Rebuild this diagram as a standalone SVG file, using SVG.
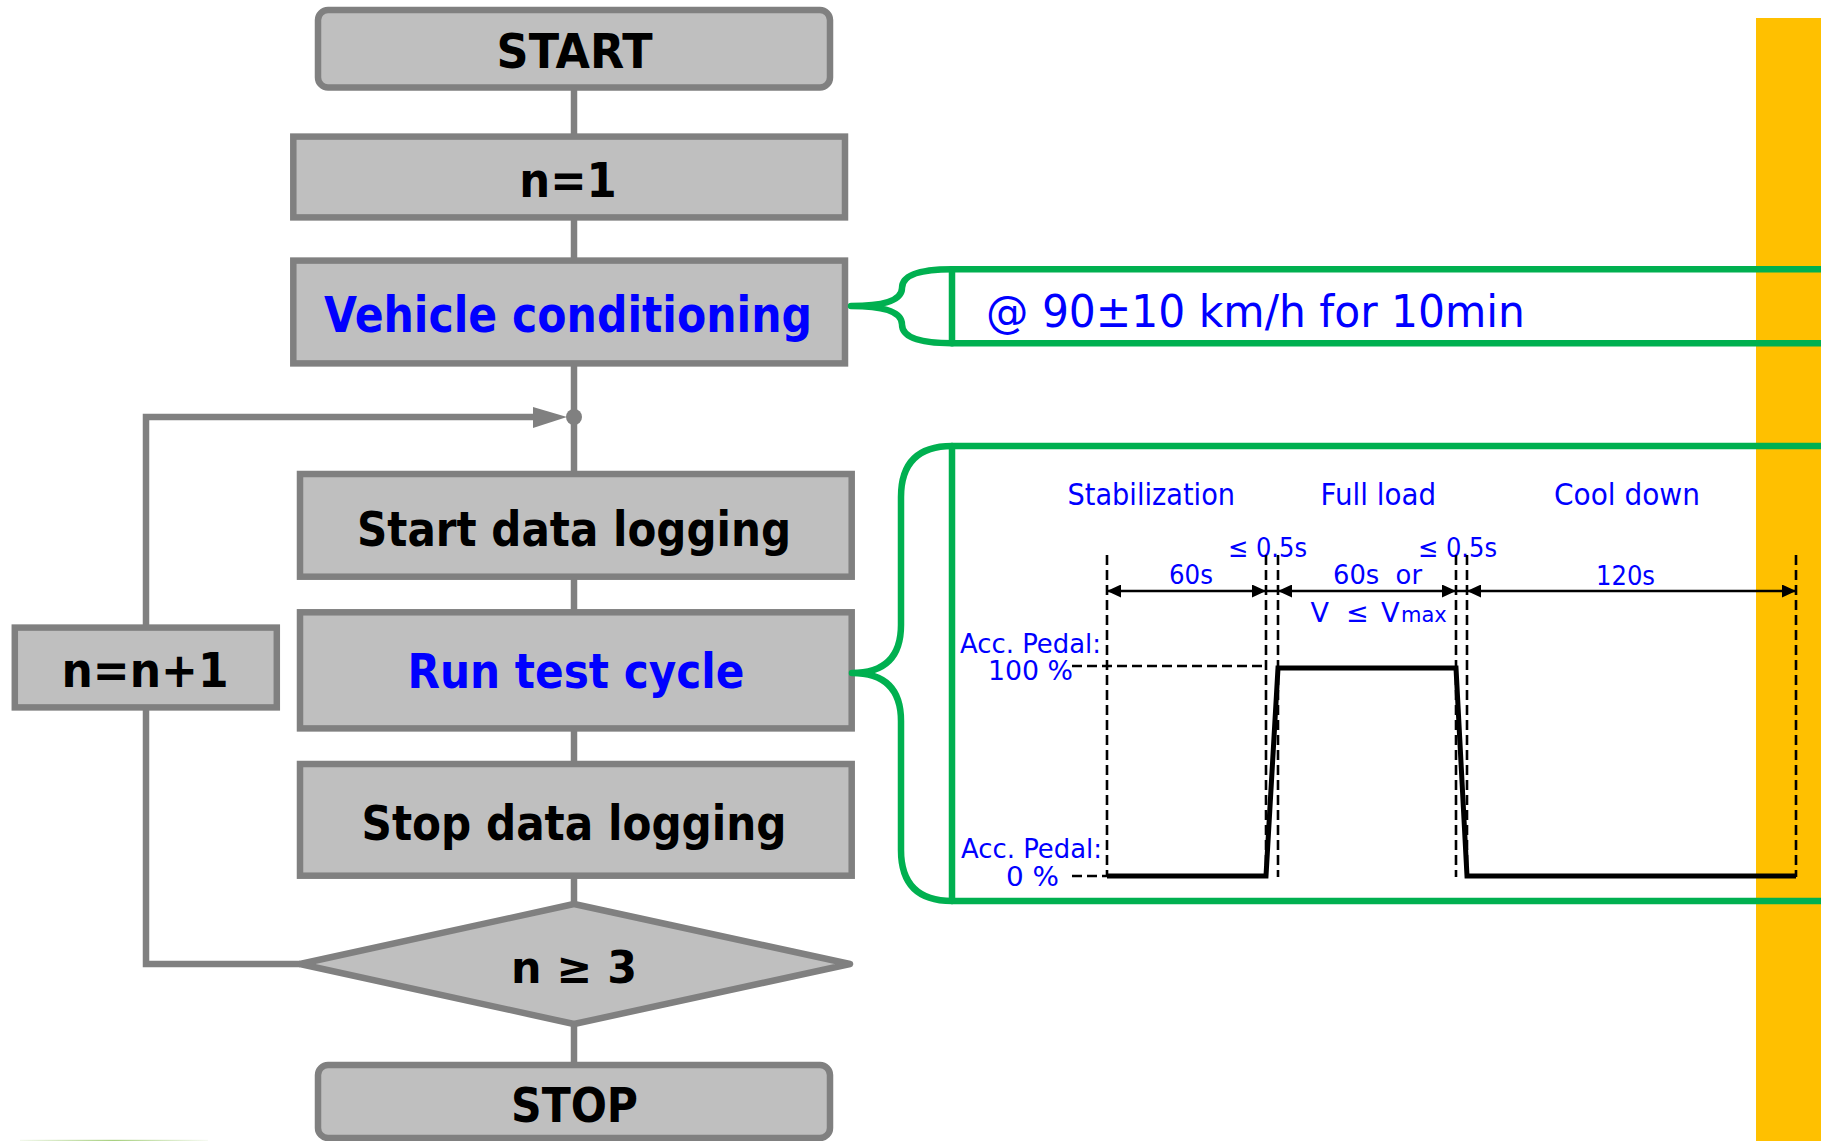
<svg xmlns="http://www.w3.org/2000/svg" width="1821" height="1141" viewBox="0 0 1821 1141">
  <style>
    .box { fill: #BFBFBF; stroke: #808080; stroke-width: 6.5; }
    .conn { fill: none; stroke: #808080; stroke-width: 6.5; }
    .lbl { font-family: "DejaVu Sans", Verdana, sans-serif; font-weight: bold; font-size: 48px; fill: #000000; text-anchor: middle; }
    .blue { fill: #0000FF; }
    .note { font-family: "DejaVu Sans", Verdana, sans-serif; font-size: 27px; fill: #0000FF; }
    .title { font-size: 30px; }
    .brace { fill: none; stroke: #00B050; stroke-width: 6.5; stroke-linecap: round; stroke-linejoin: round; }
    .dash { fill: none; stroke: #000000; stroke-width: 2.6; stroke-dasharray: 10 5; }
    .dim { fill: none; stroke: #000000; stroke-width: 2.5; }
    .trace { fill: none; stroke: #000000; stroke-width: 5; stroke-linejoin: miter; }
  </style>
  <defs>
    <marker id="tri" viewBox="0 0 14 13" refX="14" refY="6.5" markerWidth="14" markerHeight="13" markerUnits="userSpaceOnUse" orient="auto-start-reverse">
      <path d="M0,0 L14,6.5 L0,13 Z" fill="#000000"/>
    </marker>
    <linearGradient id="fade" x1="0" x2="1" y1="0" y2="0">
      <stop offset="0" stop-color="#F2F8EC"/>
      <stop offset="0.5" stop-color="#A8D080"/>
      <stop offset="1" stop-color="#F6FAF2"/>
    </linearGradient>
  </defs>

  <rect width="1821" height="1141" fill="#FFFFFF"/>

  <!-- side band -->
  <rect id="side-band" x="1756" y="18" width="65" height="1123" fill="#FFC000"/>
  <rect x="20" y="1139.8" width="188" height="1.2" fill="url(#fade)"/>

  <!-- connectors -->
  <g id="connectors">
    <line class="conn" x1="574" y1="87" x2="574" y2="137"/>
    <line class="conn" x1="574" y1="217" x2="574" y2="261"/>
    <line class="conn" x1="574" y1="363" x2="574" y2="474"/>
    <line class="conn" x1="574" y1="577" x2="574" y2="612"/>
    <line class="conn" x1="574" y1="728" x2="574" y2="764"/>
    <line class="conn" x1="574" y1="876" x2="574" y2="904"/>
    <line class="conn" x1="574" y1="1024" x2="574" y2="1065"/>
    <polyline class="conn" points="300,964 146,964 146,707"/>
    <polyline class="conn" points="146,627 146,417 535,417"/>
    <polygon points="533,407 567,417 533,428" fill="#808080"/>
    <circle cx="574" cy="417" r="8" fill="#808080"/>
  </g>

  <!-- flow nodes -->
  <g id="start">
    <rect class="box" x="318" y="10" width="512" height="77.5" rx="10"/>
    <text class="lbl" x="574.6" y="68" textLength="156" lengthAdjust="spacingAndGlyphs">START</text>
  </g>
  <g id="init">
    <rect class="box" x="293.3" y="136.6" width="551.7" height="80.8"/>
    <text class="lbl" x="568" y="196.7" textLength="97.5" lengthAdjust="spacingAndGlyphs">n=1</text>
  </g>
  <g id="conditioning">
    <rect class="box" x="293.3" y="260.6" width="551.7" height="102.8"/>
    <text class="lbl blue" x="568" y="331.7" style="font-size:50px" textLength="488" lengthAdjust="spacingAndGlyphs">Vehicle conditioning</text>
  </g>
  <g id="start-logging">
    <rect class="box" x="300" y="474" width="551.7" height="102.7"/>
    <text class="lbl" x="574" y="545.7" textLength="434" lengthAdjust="spacingAndGlyphs">Start data logging</text>
  </g>
  <g id="run-cycle">
    <rect class="box" x="300" y="612.3" width="551.7" height="116.1"/>
    <text class="lbl blue" x="576" y="688.3" textLength="337" lengthAdjust="spacingAndGlyphs">Run test cycle</text>
  </g>
  <g id="stop-logging">
    <rect class="box" x="300" y="764" width="551.7" height="111.7"/>
    <text class="lbl" x="574" y="840" textLength="425" lengthAdjust="spacingAndGlyphs">Stop data logging</text>
  </g>
  <g id="increment">
    <rect class="box" x="14.8" y="627.6" width="262" height="79.8"/>
    <text class="lbl" x="145" y="686.7" textLength="167" lengthAdjust="spacingAndGlyphs">n=n+1</text>
  </g>
  <g id="decision">
    <polygon class="box" stroke-linejoin="round" points="574,904 850,964 574,1024 300,964"/>
    <text class="lbl" x="574" y="982.7" style="font-size:44px" textLength="126" lengthAdjust="spacingAndGlyphs">n ≥ 3</text>
  </g>
  <g id="stop">
    <rect class="box" x="318" y="1065" width="512" height="73" rx="10"/>
    <text class="lbl" x="574.5" y="1121.7" textLength="127" lengthAdjust="spacingAndGlyphs">STOP</text>
  </g>

  <!-- conditioning note -->
  <g id="conditioning-note">
    <path class="brace" d="M1821,269.3 L952,269.3 Q902,269.3 902,288 Q902,306 851,306 Q902,306 902,324.6 Q902,343.3 952,343.3 L1821,343.3"/>
    <line class="brace" x1="952" y1="269.3" x2="952" y2="343.3" stroke-width="6"/>
    <text class="note" x="986" y="326.7" style="font-size:45px" textLength="539" lengthAdjust="spacingAndGlyphs">@ 90±10 km/h for 10min</text>
  </g>

  <!-- test cycle detail -->
  <g id="cycle-note">
    <path class="brace" d="M1821,446 L952,446 Q901,446 901,497 L901,625 Q901,673 852,673 Q901,673 901,721 L901,850 Q901,901 952,901 L1821,901"/>
    <line class="brace" x1="952" y1="446" x2="952" y2="901" stroke-width="6"/>

    <text class="note title" x="1067.5" y="505" textLength="167.5" lengthAdjust="spacingAndGlyphs">Stabilization</text>
    <text class="note title" x="1320.5" y="505" textLength="115.5" lengthAdjust="spacingAndGlyphs">Full load</text>
    <text class="note title" x="1554" y="505" textLength="146" lengthAdjust="spacingAndGlyphs">Cool down</text>

    <text class="note" x="1228" y="556.5" textLength="79" lengthAdjust="spacingAndGlyphs">≤ 0.5s</text>
    <text class="note" x="1418" y="556.5" textLength="79" lengthAdjust="spacingAndGlyphs">≤ 0.5s</text>
    <text class="note" x="1169" y="584" textLength="44" lengthAdjust="spacingAndGlyphs">60s</text>
    <text class="note" x="1333" y="584" textLength="89" lengthAdjust="spacingAndGlyphs" xml:space="preserve">60s  or</text>
    <text class="note" x="1596" y="585" textLength="59" lengthAdjust="spacingAndGlyphs">120s</text>
    <text class="note" y="621.7"><tspan x="1310.5">V</tspan><tspan x="1346">≤</tspan><tspan x="1381">V</tspan><tspan x="1401" style="font-size:21px">max</tspan></text>

    <text class="note" x="960" y="652.7" textLength="141" lengthAdjust="spacingAndGlyphs">Acc. Pedal:</text>
    <text class="note" x="988" y="680" textLength="85" lengthAdjust="spacingAndGlyphs">100 %</text>
    <text class="note" x="961" y="858" textLength="141" lengthAdjust="spacingAndGlyphs">Acc. Pedal:</text>
    <text class="note" x="1006" y="886" textLength="53" lengthAdjust="spacingAndGlyphs">0 %</text>

    <!-- guide lines -->
    <line class="dash" x1="1107" y1="555" x2="1107" y2="877"/>
    <line class="dash" x1="1266" y1="555" x2="1266" y2="877"/>
    <line class="dash" x1="1278" y1="555" x2="1278" y2="877"/>
    <line class="dash" x1="1456" y1="555" x2="1456" y2="877"/>
    <line class="dash" x1="1467" y1="555" x2="1467" y2="877"/>
    <line class="dash" x1="1796" y1="555" x2="1796" y2="877"/>
    <line class="dash" x1="1072" y1="666" x2="1267" y2="666"/>
    <line class="dash" x1="1072" y1="876" x2="1107" y2="876"/>

    <!-- duration arrows -->
    <line class="dim" x1="1107" y1="591" x2="1266" y2="591" marker-start="url(#tri)" marker-end="url(#tri)"/>
    <line class="dim" x1="1266" y1="591" x2="1278" y2="591"/>
    <line class="dim" x1="1278" y1="591" x2="1456" y2="591" marker-start="url(#tri)" marker-end="url(#tri)"/>
    <line class="dim" x1="1456" y1="591" x2="1467" y2="591"/>
    <line class="dim" x1="1467" y1="591" x2="1796" y2="591" marker-start="url(#tri)" marker-end="url(#tri)"/>

    <!-- pedal trace -->
    <polyline class="trace" points="1107,876 1266,876 1278,668 1456,668 1467,876 1796,876"/>
  </g>
</svg>
